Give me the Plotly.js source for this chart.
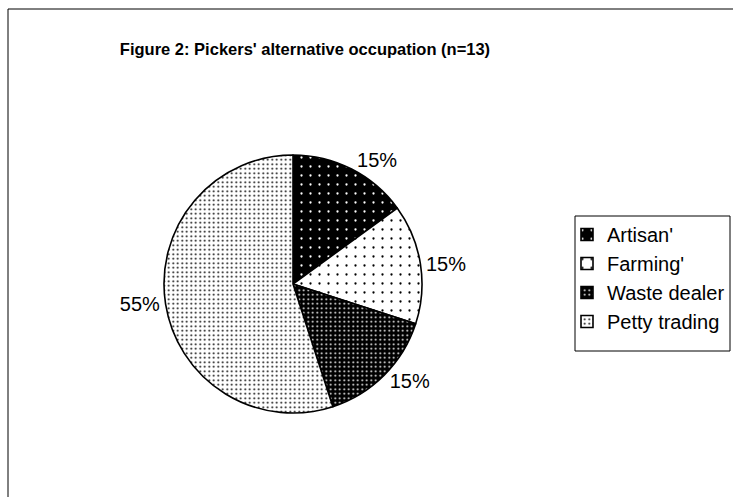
<!DOCTYPE html>
<html><head><meta charset="utf-8">
<script src="https://cdn.plot.ly/plotly-3.0.1.min.js"></script>
<style>html,body{margin:0;padding:0;background:#fff}#chart{width:733px;height:497px}</style>
</head><body><div id="chart"></div>
<script>
const categories = ["Artisan'", "Farming'", "Waste dealer", "Petty trading"];
const shares = [15, 15, 15, 55];
const titleText = "Figure 2: Pickers' alternative occupation (n=13)";

const bgColors = ["#000000", "#ffffff", "#000000", "#ffffff"];
const fgColors = ["#ffffff", "#000000", "#ffffff", "#000000"];
const patSizes = [9, 9, 4.5, 4.5];
const patSolid = [0.05, 0.05, 0.15, 0.15];

const W = 733, H = 497;
const px = v => v / W;
const py = v => 1 - v / H;

const trace = {
  type: 'pie',
  labels: categories,
  values: shares,
  sort: false,
  direction: 'clockwise',
  rotation: 0,
  texttemplate: '%{percent:.0%}',
  textposition: 'outside',
  outsidetextfont: {family: 'Liberation Sans, Arial, sans-serif', size: 20, color: '#000'},
  marker: {
    colors: bgColors,
    line: {color: '#000', width: 1.6},
    pattern: {shape: '.', fgcolor: fgColors, bgcolor: bgColors, size: patSizes, solidity: patSolid, fillmode: 'replace'}
  },
  domain: {x: [px(164), px(422)], y: [py(413), py(155)]},
  hoverinfo: 'none'
};

const layout = {
  width: W, height: H,
  margin: {l: 0, r: 0, t: 0, b: 0},
  paper_bgcolor: '#fff',
  font: {family: 'Liberation Sans, Arial, sans-serif', color: '#000'},
  title: {text: '<b>' + titleText + '</b>', x: px(305), xanchor: 'center', y: py(49), yanchor: 'middle', font: {size: 16.5}},
  showlegend: true,
  legend: {
    x: px(567), y: py(215), xanchor: 'left', yanchor: 'top',
    borderwidth: 0, bgcolor: 'rgba(0,0,0,0)',
    font: {size: 20}, itemwidth: 30, tracegroupgap: 0
  },
  shapes: [
    {type: 'line', xref: 'paper', yref: 'paper', x0: px(8), x1: px(8), y0: 0, y1: py(9), line: {color: '#000', width: 1}},
    {type: 'line', xref: 'paper', yref: 'paper', x0: px(8), x1: 1, y0: py(9), y1: py(9), line: {color: '#000', width: 1}},
    {type: 'rect', xref: 'paper', yref: 'paper', x0: px(575), x1: px(730), y0: py(351), y1: py(216), line: {color: '#000', width: 1}, layer: 'below'}
  ]
};

Plotly.newPlot('chart', [trace], layout, {displayModeBar: false, staticPlot: true});
</script></body></html>
